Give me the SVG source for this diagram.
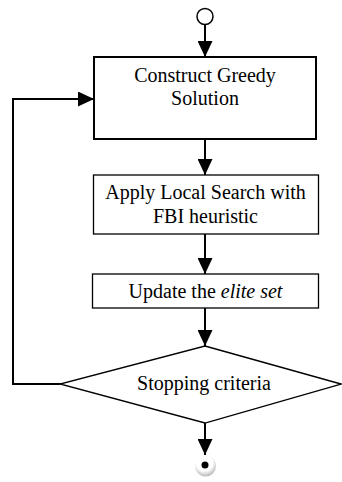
<svg xmlns="http://www.w3.org/2000/svg" width="342" height="482" viewBox="0 0 342 482">
<style>
.t{font-family:"Liberation Serif","Times New Roman",serif;font-size:20px;fill:#000;text-anchor:middle}
.b{fill:#fff;stroke:#000;stroke-width:1.3}
.c{fill:none;stroke:#000;stroke-width:2}
</style>
<defs>
<marker id="ah" viewBox="0 0 16 15" refX="16" refY="7.5" markerWidth="16" markerHeight="15" markerUnits="userSpaceOnUse" orient="auto">
<path d="M0,0L16,7.5L0,15z" fill="#000"/>
</marker>
<radialGradient id="g" cx="0.45" cy="0.35" r="0.7">
<stop offset="0.55" stop-color="#fff"/>
<stop offset="1" stop-color="#aaa"/>
</radialGradient>
</defs>
<g id="connectors">
<line class="c" x1="205" y1="25" x2="205" y2="57" marker-end="url(#ah)"/>
<line class="c" x1="205" y1="139" x2="205" y2="175" marker-end="url(#ah)"/>
<line class="c" x1="205" y1="234" x2="205" y2="274" marker-end="url(#ah)"/>
<line class="c" x1="205" y1="308" x2="205" y2="346" marker-end="url(#ah)"/>
<line class="c" x1="205" y1="423" x2="205" y2="455" marker-end="url(#ah)"/>
<polyline class="c" points="60,384 13,384 13,99 94,99" marker-end="url(#ah)"/>
</g>
<g id="start">
<circle cx="205" cy="16.5" r="8" fill="#fff" stroke="#000" stroke-width="1.5"/>
</g>
<g id="construct">
<rect x="94" y="57" width="222" height="82" fill="#fff" stroke="#000" stroke-width="2"/>
<text class="t" x="205" y="82">Construct Greedy</text>
<text class="t" x="205" y="105">Solution</text>
</g>
<g id="local">
<rect class="b" x="93.5" y="175" width="225" height="59"/>
<text class="t" x="205.5" y="199">Apply Local Search with</text>
<text class="t" x="205.5" y="223">FBI heuristic</text>
</g>
<g id="update">
<rect class="b" x="92.5" y="274" width="226" height="34"/>
<text class="t" x="205.5" y="298">Update the <tspan font-style="italic">elite set</tspan></text>
</g>
<g id="stop">
<polygon class="b" points="205,346 341,384 205,423 60,384"/>
<text class="t" x="204" y="390">Stopping criteria</text>
</g>
<g id="end">
<circle cx="205.5" cy="466" r="10.5" fill="url(#g)"/>
<circle cx="205" cy="465" r="3.5" fill="#000"/>
</g>
</svg>
